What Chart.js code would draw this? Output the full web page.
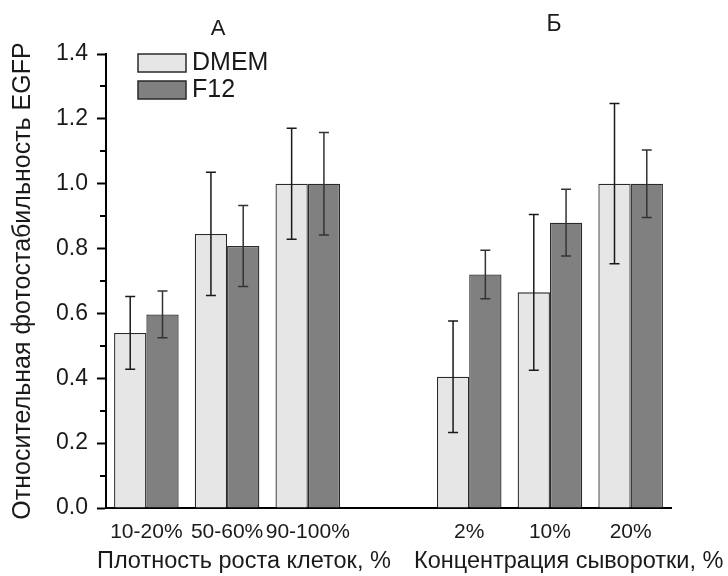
<!DOCTYPE html>
<html>
<head>
<meta charset="utf-8">
<script src="https://cdn.jsdelivr.net/npm/chart.js@4"></script>
<style>
  html, body { margin: 0; padding: 0; background: #fff; }
  #wrap { width: 728px; height: 576px; }
</style>
</head>
<body>
<div id="wrap"><canvas id="chart1"></canvas></div>
<script>
// categories (empty slot separates the two experiments)
var categories = ['10-20%', '50-60%', '90-100%', '', '2%', '10%', '20%'];

var dmemValues = [0.54, 0.845, 1.0, null, 0.405, 0.665, 1.0];
var dmemErrors = [0.112, 0.19, 0.171, null, 0.172, 0.24, 0.247];

var f12Values = [0.597, 0.808, 1.0, null, 0.72, 0.88, 1.0];
var f12Errors = [0.072, 0.125, 0.158, null, 0.075, 0.103, 0.104];

var seriesNames = ['DMEM', 'F12'];
var panelLabels = ['А', 'Б'];
var xTitles = ['Плотность роста клеток, %', 'Концентрация сыворотки, %'];
var yTitle = 'Относительная фотостабильность EGFP';

var fillColors = ['#e6e6e6', '#808080'];
var edgeColor = '#2a2a2a';
var textColor = '#1a1a1a';
var fontName = '"Liberation Sans", Arial, sans-serif';

// error bars, drawn from the bar elements and the y scale
var errorBars = {
    id: 'errorBars',
    afterDatasetsDraw: function (chart) {
        var ctx = chart.ctx;
        var y = chart.scales.y;
        var errs = [dmemErrors, f12Errors];
        var cols = ['#1a1a1a', '#333'];
        ctx.save();
        ctx.lineWidth = 1.5;
        chart.data.datasets.forEach(function (ds, di) {
            var meta = chart.getDatasetMeta(di);
            ctx.strokeStyle = cols[di];
            meta.data.forEach(function (bar, i) {
                var v = ds.data[i];
                var e = errs[di][i];
                if (v == null || e == null) return;
                var top = y.getPixelForValue(v + e);
                var bot = y.getPixelForValue(v - e);
                ctx.beginPath();
                ctx.moveTo(bar.x, top);
                ctx.lineTo(bar.x, bot);
                ctx.moveTo(bar.x - 5, top);
                ctx.lineTo(bar.x + 5, top);
                ctx.moveTo(bar.x - 5, bot);
                ctx.lineTo(bar.x + 5, bot);
                ctx.stroke();
            });
        });
        ctx.restore();
    }
};

// minor ticks, panel letters, bottom titles and legend
var extras = {
    id: 'extras',
    afterDraw: function (chart) {
        var ctx = chart.ctx;
        var y = chart.scales.y;
        var x = chart.scales.x;
        var area = chart.chartArea;
        ctx.save();

        ctx.strokeStyle = '#000';
        ctx.lineWidth = 2;
        for (var m = 0.1; m < 1.4; m += 0.2) {
            var py = Math.round(y.getPixelForValue(m));
            ctx.beginPath();
            ctx.moveTo(area.left - 6, py);
            ctx.lineTo(area.left, py);
            ctx.stroke();
        }

        ctx.fillStyle = textColor;
        ctx.textAlign = 'center';
        ctx.textBaseline = 'middle';
        ctx.font = '22px ' + fontName;
        ctx.fillText(panelLabels[0], x.getPixelForValue(1) - 9, 29);
        ctx.font = '23px ' + fontName;
        ctx.fillText(panelLabels[1], x.getPixelForValue(5) + 4, 25);

        ctx.font = '23.5px ' + fontName;
        ctx.textAlign = 'left';
        ctx.fillText(xTitles[0], 97, 562);
        ctx.fillText(xTitles[1], 414, 562);

        // legend
        var lx = 138, ly = [54, 81];
        ctx.font = '25px ' + fontName;
        for (var k = 0; k < 2; k++) {
            ctx.fillStyle = fillColors[k];
            ctx.fillRect(lx, ly[k], 48, 18);
            ctx.strokeStyle = edgeColor;
            ctx.lineWidth = 1.5;
            ctx.strokeRect(lx, ly[k], 48, 18);
            ctx.fillStyle = textColor;
            ctx.fillText(seriesNames[k], 192, ly[k] + 9);
        }
        ctx.restore();
    }
};

var ctx = document.getElementById('chart1').getContext('2d');
new Chart(ctx, {
    type: 'bar',
    data: {
        labels: categories,
        datasets: [
            {
                label: seriesNames[0],
                data: dmemValues,
                backgroundColor: fillColors[0],
                borderColor: edgeColor,
                borderWidth: 1.3
            },
            {
                label: seriesNames[1],
                data: f12Values,
                backgroundColor: fillColors[1],
                borderColor: edgeColor,
                borderWidth: 1.3
            }
        ]
    },
    options: {
        responsive: true,
        maintainAspectRatio: false,
        animation: false,
        datasets: {
            bar: { categoryPercentage: 0.8, barPercentage: 1.0 }
        },
        layout: {
            padding: { left: 0, right: 57, top: 54, bottom: 0 }
        },
        plugins: {
            legend: { display: false },
            tooltip: { enabled: false }
        },
        scales: {
            x: {
                afterFit: function (s) { s.height = 68; },
                grid: { display: false, drawTicks: false },
                border: { color: '#000', width: 2 },
                ticks: {
                    autoSkip: false,
                    maxRotation: 0,
                    padding: 12,
                    color: textColor,
                    font: { family: fontName, size: 21 }
                }
            },
            y: {
                min: 0,
                max: 1.4,
                afterFit: function (s) { s.width = 106; },
                grid: {
                    drawOnChartArea: false,
                    drawTicks: true,
                    tickLength: 9,
                    tickWidth: 2,
                    tickColor: '#000'
                },
                border: { color: '#000', width: 2 },
                ticks: {
                    stepSize: 0.2,
                    padding: 9,
                    color: textColor,
                    font: { family: fontName, size: 23 },
                    callback: function (v) { return v.toFixed(1); }
                },
                title: {
                    display: true,
                    text: yTitle,
                    color: textColor,
                    padding: { top: 8, bottom: 0 },
                    font: { family: fontName, size: 25 }
                }
            }
        }
    },
    plugins: [errorBars, extras]
});
</script>
</body>
</html>
